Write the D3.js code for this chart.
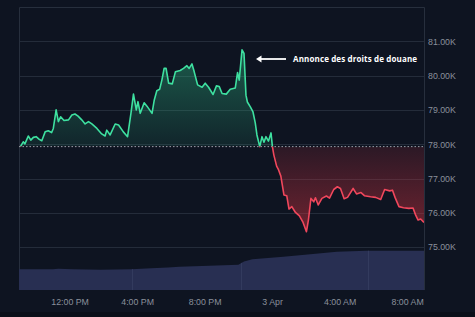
<!DOCTYPE html>
<html>
<head>
<meta charset="utf-8">
<script src="https://cdn.jsdelivr.net/npm/d3@7"></script>
<style>
  body { margin: 0; background: #0e1421; }
  svg { display: block; }
</style>
</head>
<body>
<div id="container"></div>
<script>
// minutes after 2 Apr 09:00, and BTC price in thousands
let minutes = [5, 15, 21, 33, 42, 51, 61, 72, 81, 93, 104, 116, 122, 132, 140, 148, 160, 176, 188, 199,
  210, 223, 235, 247, 259, 277, 294, 306, 312, 324, 342, 354, 371, 386, 398, 407, 417, 423, 431, 445,
  455, 473, 481, 490, 500, 508, 516, 523, 532, 545, 556, 573, 585, 597, 605, 615, 623, 635, 651, 662,
  674, 690, 702, 712, 722, 737, 751, 769, 777, 783, 793, 800, 807, 812, 823, 832, 840, 846, 856, 864,
  871, 878, 887, 896, 901, 906, 916, 923, 931, 942, 952, 960, 970, 983, 997, 1010, 1022, 1029, 1038, 1048,
  1054, 1064, 1077, 1093, 1104, 1119, 1132, 1143, 1156, 1168, 1188, 1200, 1216, 1228, 1250, 1268, 1286, 1300, 1318, 1328,
  1337, 1351, 1367, 1386, 1401, 1410, 1419, 1428, 1440];
let prices = [77.93, 78.07, 78.01, 78.24, 78.12, 78.20, 78.22, 78.14, 78.10, 78.36, 78.39, 78.34, 78.46, 79.00, 78.66, 78.80, 78.69, 78.71, 78.85, 78.88,
  78.82, 78.71, 78.59, 78.66, 78.59, 78.46, 78.30, 78.24, 78.41, 78.27, 78.59, 78.56, 78.36, 78.22, 78.90, 79.46, 79.00, 79.24, 78.90, 79.21,
  79.11, 78.90, 79.29, 79.56, 79.60, 79.87, 80.21, 80.21, 79.78, 79.76, 80.11, 80.15, 80.21, 80.29, 80.21, 80.34, 80.11, 79.73, 79.66, 79.78,
  79.66, 79.45, 79.70, 79.68, 79.48, 79.46, 79.60, 79.64, 80.09, 79.87, 80.75, 80.65, 79.43, 79.23, 79.08, 78.94, 78.62, 78.27, 77.93, 78.22,
  78.06, 78.22, 78.09, 78.33, 77.93, 77.69, 77.36, 77.25, 77.07, 76.52, 76.50, 76.11, 76.18, 76.01, 75.91, 75.72, 75.45, 75.79, 76.42, 76.32,
  76.44, 76.23, 76.42, 76.49, 76.43, 76.68, 76.76, 76.71, 76.41, 76.45, 76.71, 76.55, 76.59, 76.50, 76.47, 76.45, 76.39, 76.68, 76.64, 76.66,
  76.45, 76.18, 76.15, 76.13, 76.14, 75.94, 75.79, 75.82, 75.72];

// volume band at the bottom (relative units)
let volMinutes = [0, 120, 140, 190, 290, 400, 470, 530, 570, 650, 780, 800, 830, 940, 1045, 1130, 1235, 1440];
let volValues = [41.4, 41.4, 42.6, 41.4, 40.6, 41.4, 43.4, 45, 46.6, 48, 50.6, 57, 61.4, 66.6, 72, 76.6, 78.6, 78.6];
let separators = [400, 790, 1240];

let priceTicks = [75, 76, 77, 78, 79, 80, 81];
let timeTicks = ["2025-04-02 12:00", "2025-04-02 16:00", "2025-04-02 20:00", "2025-04-03 00:00", "2025-04-03 04:00", "2025-04-03 08:00"];

let annotation = "Annonce des droits de douane";

let w = 475;
let h = 317;
let padL = 19, padR = 424, padT = 7, padB = 290;

let parseT = d3.timeParse("%Y-%m-%d %H:%M");
let start = parseT("2025-04-02 09:00");
let toDate = function(m){ return new Date(start.getTime() + m * 60000); };

let data = minutes.map(function(m, i){ return { t: toDate(m), p: prices[i] }; });
let volData = volMinutes.map(function(m, i){ return { t: toDate(m), v: volValues[i] }; });
let basePrice = prices[0];

let viz = d3.select("#container")
  .append("svg")
    .attr("width", w)
    .attr("height", h)
;

viz.append("rect").attr("width", w).attr("height", h).attr("fill", "#0e1421");
viz.append("rect").attr("y", 312).attr("width", w).attr("height", 5).attr("fill", "#0a0f19");

let xScale = d3.scaleTime().domain([start, toDate(1440)]).range([padL, padR]);
let yScale = d3.scaleLinear().domain([73.75, 82]).range([padB, padT]);
let vScale = d3.scaleLinear().domain([0, 100]).range([padB, padB - 50]);

// grid
viz.append("g").selectAll("line").data(priceTicks).enter()
  .append("line")
    .attr("x1", padL).attr("x2", padR)
    .attr("y1", function(d){ return Math.round(yScale(d)) + 0.5; })
    .attr("y2", function(d){ return Math.round(yScale(d)) + 0.5; })
    .attr("stroke", d3.rgb(36, 44, 58))
    .attr("stroke-width", 1)
;

// frame
viz.append("path")
  .attr("d", "M" + (padL + 0.5) + "," + padB + "V" + (padT + 0.5) + "H" + (padR + 0.5) + "V" + padB)
  .attr("fill", "none")
  .attr("stroke", "#272f3d")
;

let defs = viz.append("defs");

// volume
let volArea = d3.area()
  .x(function(d){ return xScale(d.t); })
  .y0(padB)
  .y1(function(d){ return vScale(d.v); })
;
viz.append("path").datum(volData).attr("d", volArea).attr("fill", "#282f52");
defs.append("clipPath").attr("id", "volClip")
  .append("path").datum(volData).attr("d", volArea);

// faint session separators inside the volume band
viz.append("g").attr("clip-path", "url(#volClip)")
  .selectAll("line").data(separators).enter()
  .append("line")
    .attr("x1", function(d){ return Math.round(xScale(toDate(d))) + 0.5; })
    .attr("x2", function(d){ return Math.round(xScale(toDate(d))) + 0.5; })
    .attr("y1", padB)
    .attr("y2", padB - 50)
    .attr("stroke", "#333b5e")
;

// gradients
let baseY = yScale(basePrice);
let g1 = defs.append("linearGradient").attr("id", "upFill")
  .attr("gradientUnits", "userSpaceOnUse").attr("x1", 0).attr("x2", 0)
  .attr("y1", yScale(80.8)).attr("y2", baseY);
g1.append("stop").attr("offset", 0).attr("stop-color", "#2fbf87").attr("stop-opacity", 0.42);
g1.append("stop").attr("offset", 1).attr("stop-color", "#2fbf87").attr("stop-opacity", 0.1);
let g2 = defs.append("linearGradient").attr("id", "downFill")
  .attr("gradientUnits", "userSpaceOnUse").attr("x1", 0).attr("x2", 0)
  .attr("y1", baseY).attr("y2", yScale(75.4));
g2.append("stop").attr("offset", 0).attr("stop-color", "#d2323f").attr("stop-opacity", 0.15);
g2.append("stop").attr("offset", 1).attr("stop-color", "#d2323f").attr("stop-opacity", 0.5);

defs.append("clipPath").attr("id", "aboveClip")
  .append("rect").attr("x", padL).attr("y", padT).attr("width", padR - padL).attr("height", baseY - padT);
defs.append("clipPath").attr("id", "belowClip")
  .append("rect").attr("x", padL).attr("y", baseY).attr("width", padR - padL).attr("height", padB - baseY);

let area = d3.area()
  .x(function(d){ return xScale(d.t); })
  .y0(baseY)
  .y1(function(d){ return yScale(d.p); })
;
let lineMaker = d3.line()
  .x(function(d){ return xScale(d.t); })
  .y(function(d){ return yScale(d.p); })
;

viz.append("path").datum(data).attr("d", area).attr("fill", "url(#upFill)").attr("clip-path", "url(#aboveClip)");
viz.append("path").datum(data).attr("d", area).attr("fill", "url(#downFill)").attr("clip-path", "url(#belowClip)");

// baseline
viz.append("line")
  .attr("x1", padL).attr("x2", padR)
  .attr("y1", baseY).attr("y2", baseY)
  .attr("stroke", "#9aa0aa")
  .attr("stroke-width", 1)
  .attr("stroke-dasharray", "1.5,2")
;

viz.append("path").datum(data).attr("d", lineMaker)
  .attr("fill", "none").attr("stroke", "#3ee0a0").attr("stroke-width", 1.6)
  .attr("stroke-linejoin", "round")
  .attr("clip-path", "url(#aboveClip)");
viz.append("path").datum(data).attr("d", lineMaker)
  .attr("fill", "none").attr("stroke", "#f0475c").attr("stroke-width", 1.6)
  .attr("stroke-linejoin", "round")
  .attr("clip-path", "url(#belowClip)");

// y axis labels
let yAxis = d3.axisRight(yScale)
  .tickValues(priceTicks)
  .tickSize(0)
  .tickPadding(4)
  .tickFormat(function(d){ return d3.format(".2f")(d) + "K"; });
let yAxisGroup = viz.append("g")
  .attr("transform", "translate(" + padR + ",0)")
  .call(yAxis);
yAxisGroup.select(".domain").remove();
yAxisGroup.selectAll("text")
  .attr("fill", "#8a909b")
  .style("font-family", "'Liberation Sans', Arial, sans-serif")
  .style("font-size", "8.8px");

// x axis labels
let xAxis = d3.axisBottom(xScale)
  .tickValues(timeTicks.map(parseT))
  .tickSize(0)
  .tickPadding(9)
  .tickFormat(function(d){
    if (d.getHours() === 0) return d3.timeFormat("%-d %b")(d);
    return d3.timeFormat("%-I:%M %p")(d);
  });
let xAxisGroup = viz.append("g")
  .attr("transform", "translate(0," + padB + ")")
  .call(xAxis);
xAxisGroup.select(".domain").remove();
xAxisGroup.selectAll("text")
  .attr("fill", "#8a909b")
  .style("font-family", "'Liberation Sans', Arial, sans-serif")
  .style("font-size", "8.8px");

// annotation
let annY = 59;
viz.append("line")
  .attr("x1", 286).attr("x2", 260)
  .attr("y1", annY).attr("y2", annY)
  .attr("stroke", "#ffffff").attr("stroke-width", 1.8);
viz.append("path")
  .attr("d", "M256," + annY + "L261.5," + (annY - 3.5) + "L261.5," + (annY + 3.5) + "Z")
  .attr("fill", "#ffffff");
viz.append("text")
  .attr("x", 293).attr("y", annY + 3)
  .attr("fill", "#ffffff")
  .attr("textLength", 124)
  .attr("lengthAdjust", "spacing")
  .style("font-family", "'Open Sans', sans-serif")
  .style("font-weight", "bold")
  .style("font-size", "8px")
  .text(annotation);
</script>
</body>
</html>
